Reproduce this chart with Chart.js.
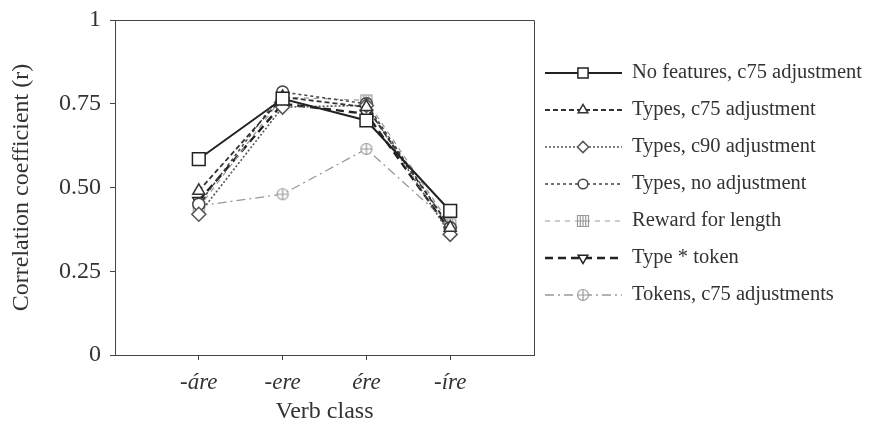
<!DOCTYPE html>
<html>
<head>
<meta charset="UTF-8">
<title>Verb class</title>
<script src="https://cdn.jsdelivr.net/npm/chart.js@4.4.1/dist/chart.umd.min.js"></script>
<style>
  body { margin: 0; background: #fff; }
  #wrap { width: 878px; height: 435px; }
</style>
</head>
<body>
<div id="wrap"><canvas id="grafico"></canvas></div>
<script>
var clases = ['-áre', '-ere', 'ére', '-íre'];
var yTicks = [0, 0.25, 0.5, 0.75, 1];

var noFeatures = [0.585, 0.765, 0.70, 0.43];
var typesC75 = [0.49, 0.77, 0.74, 0.38];
var typesC90 = [0.42, 0.74, 0.745, 0.36];
var typesNoAdj = [0.45, 0.785, 0.75, 0.38];
var reward = [0.44, 0.77, 0.76, 0.39];
var typeToken = [0.46, 0.75, 0.72, 0.37];
var tokensC75 = [0.445, 0.48, 0.615, 0.39];

var nombres = ['No features, c75 adjustment', 'Types, c75 adjustment', 'Types, c90 adjustment',
  'Types, no adjustment', 'Reward for length', 'Type * token', 'Tokens, c75 adjustments'];

// marcadores con cruz
function marcaCruz(forma, color) {
  var c = document.createElement('canvas');
  c.width = 14; c.height = 14;
  var g = c.getContext('2d');
  g.strokeStyle = color; g.lineWidth = 1.2; g.fillStyle = '#fff';
  g.beginPath();
  if (forma === 'rect') g.rect(1.5, 1.5, 11, 11); else g.arc(7, 7, 5.5, 0, Math.PI * 2);
  g.fill(); g.stroke();
  g.beginPath();
  g.moveTo(7, 1.5); g.lineTo(7, 12.5); g.moveTo(1.5, 7); g.lineTo(12.5, 7);
  if (forma === 'rect') { g.moveTo(4.3, 1.5); g.lineTo(4.3, 12.5); g.moveTo(9.7, 1.5); g.lineTo(9.7, 12.5); }
  g.stroke();
  return c;
}

var estilos = [
  { color: '#222', dash: [], width: 2, point: 'rect', radius: 9 },
  { color: '#333', dash: [5, 3], width: 1.8, point: 'triangle', radius: 7 },
  { color: '#555', dash: [2, 2], width: 1.6, point: 'rectRot', radius: 7 },
  { color: '#444', dash: [3, 3], width: 1.5, point: 'circle', radius: 6 },
  { color: '#999', dash: [5, 5], width: 1.2, point: marcaCruz('rect', '#999'), radius: 7 },
  { color: '#222', dash: [8, 5], width: 2.4, point: 'triangle', radius: 7, rot: 180 },
  { color: '#999', dash: [9, 4, 2, 4], width: 1.3, point: marcaCruz('circle', '#999'), radius: 7 }
];

var series = [noFeatures, typesC75, typesC90, typesNoAdj, reward, typeToken, tokensC75];

var datasets = series.map(function (vals, i) {
  var e = estilos[i];
  return {
    label: nombres[i],
    data: vals.map(function (v, j) { return { x: j + 1, y: v }; }),
    borderColor: e.color,
    borderWidth: e.width,
    borderDash: e.dash,
    pointStyle: e.point,
    pointRadius: e.radius,
    pointRotation: e.rot || 0,
    pointBorderColor: e.color,
    pointBackgroundColor: '#fff',
    pointBorderWidth: 1.5,
    tension: 0
  };
});

// marco superior y derecho + leyenda
var extras = {
  id: 'extras',
  afterDraw: function (chart) {
    var ctx = chart.ctx, a = chart.chartArea;
    ctx.save();
    ctx.strokeStyle = '#444'; ctx.lineWidth = 1;
    ctx.beginPath();
    ctx.moveTo(a.left, a.top + 0.5); ctx.lineTo(a.right + 0.5, a.top + 0.5); ctx.lineTo(a.right + 0.5, a.bottom);
    ctx.stroke();

    var y0 = 73, paso = 37;
    for (var i = 0; i < nombres.length; i++) {
      var e = estilos[i], y = y0 + i * paso;
      ctx.strokeStyle = e.color; ctx.lineWidth = e.width; ctx.setLineDash(e.dash);
      ctx.beginPath(); ctx.moveTo(545, y); ctx.lineTo(622, y); ctx.stroke();
      ctx.setLineDash([]);
      ctx.fillStyle = '#fff'; ctx.strokeStyle = e.color; ctx.lineWidth = 1.5;
      Chart.helpers.drawPoint(ctx, { pointStyle: e.point, radius: e.radius * 0.8, rotation: e.rot || 0, borderWidth: 1.5 }, 583, y);
      ctx.fillStyle = '#333';
      ctx.font = '20.5px "Liberation Serif"';
      ctx.textBaseline = 'middle';
      ctx.fillText(nombres[i], 632, y);
    }
    ctx.restore();
  }
};

new Chart(document.getElementById('grafico').getContext('2d'), {
  type: 'line',
  data: { datasets: datasets },
  plugins: [extras],
  options: {
    responsive: true,
    maintainAspectRatio: false,
    animation: false,
    layout: { padding: { left: 0, right: 344, top: 20, bottom: 0 } },
    plugins: { legend: { display: false }, tooltip: { enabled: false } },
    scales: {
      x: {
        type: 'linear', min: 0, max: 5,
        afterBuildTicks: function (axis) { axis.ticks = [1, 2, 3, 4].map(function (v) { return { value: v }; }); },
        afterFit: function (axis) { axis.height = 80; },
        grid: { drawOnChartArea: false, drawTicks: true, tickLength: 5, color: '#444' },
        border: { color: '#444', width: 1 },
        ticks: {
          color: '#333', padding: 9,
          font: { family: 'Liberation Serif', size: 23, style: 'italic' },
          callback: function (v) { return clases[v - 1]; }
        },
        title: { display: true, text: 'Verb class', color: '#333', font: { family: 'Liberation Serif', size: 24 }, padding: { top: 6, bottom: 9 } }
      },
      y: {
        min: 0, max: 1,
        afterBuildTicks: function (axis) { axis.ticks = yTicks.map(function (v) { return { value: v }; }); },
        afterFit: function (axis) { axis.width = 115; axis.paddingTop = 0; axis.paddingBottom = 0; },
        grid: { drawOnChartArea: false, drawTicks: true, tickLength: 5, color: '#444' },
        border: { color: '#444', width: 1 },
        ticks: {
          color: '#333', padding: 9,
          font: { family: 'Liberation Serif', size: 24 },
          callback: function (v) { return (v === 0 || v === 1) ? String(v) : v.toFixed(2); }
        },
        title: { display: true, text: 'Correlation coefficient (r)', color: '#333', font: { family: 'Liberation Serif', size: 24 }, padding: { top: 7, bottom: 0 } }
      }
    }
  }
});
</script>
</body>
</html>
